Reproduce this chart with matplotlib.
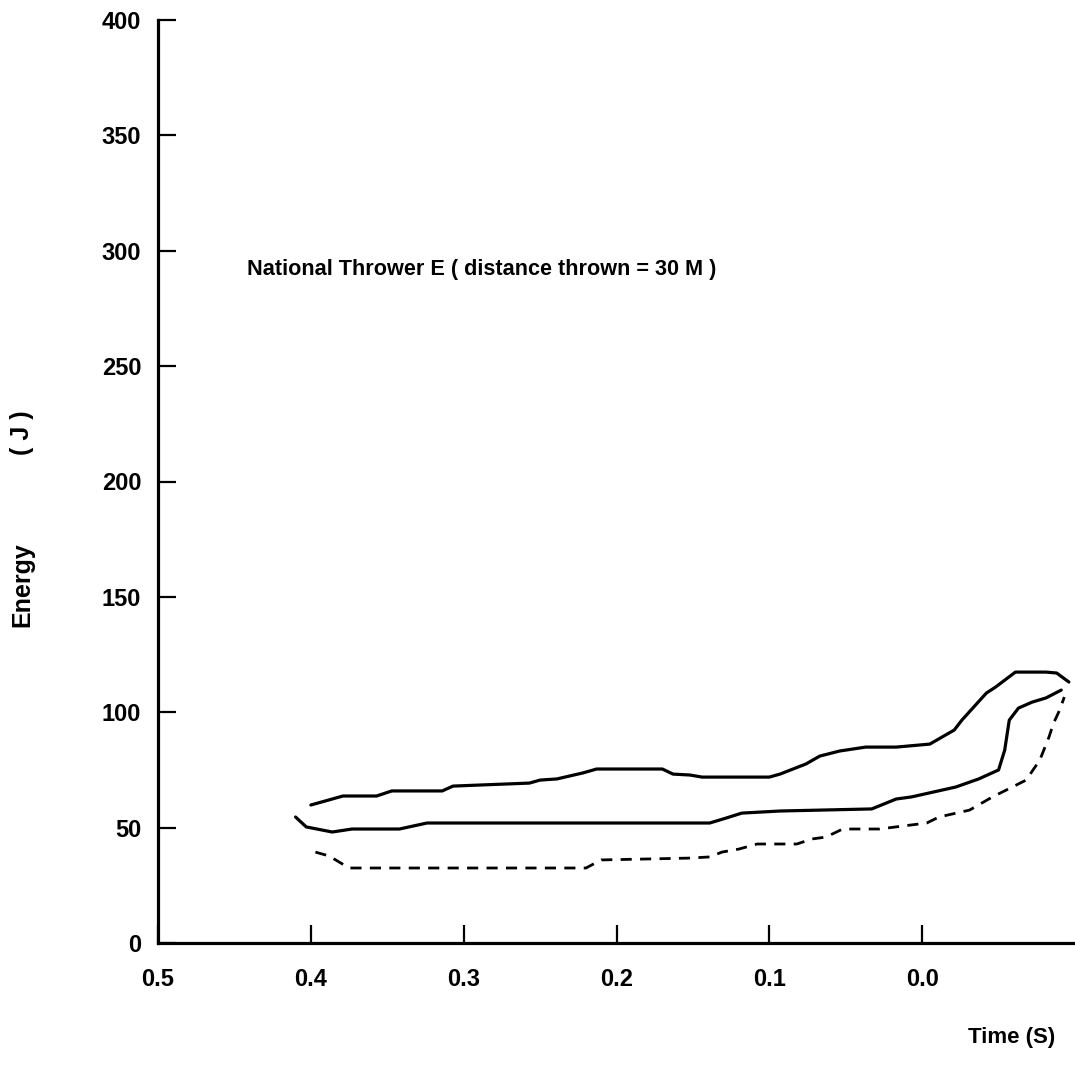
#!/usr/bin/env python

import matplotlib
matplotlib.use("Agg")
import matplotlib.pyplot as plt
import numpy as np

plt.rcParams['font.family'] = ['Liberation Sans', 'DejaVu Sans']
plt.rcParams['font.weight'] = 'bold'

# time before release (s), energy (J)
upper_t = [0.400, 0.379, 0.357, 0.347, 0.314, 0.307, 0.257, 0.250, 0.239,
           0.222, 0.213, 0.170, 0.163, 0.152, 0.144, 0.100, 0.093, 0.076,
           0.067, 0.054, 0.037, 0.017, -0.005, -0.021, -0.026, -0.042,
           -0.048, -0.061, -0.081, -0.088, -0.096]
upper_e = [59.8, 63.7, 63.7, 65.9, 65.9, 68.0, 69.3, 70.6, 71.1,
           73.7, 75.4, 75.4, 73.2, 72.8, 71.9, 71.9, 73.2, 77.6,
           81.0, 83.2, 84.9, 84.9, 86.2, 92.3, 96.6, 108.3,
           110.9, 117.4, 117.4, 117.0, 113.1]

middle_t = [0.410, 0.403, 0.386, 0.373, 0.342, 0.324, 0.146, 0.139, 0.128,
            0.118, 0.093, 0.033, 0.017, 0.007, -0.022, -0.037, -0.050,
            -0.054, -0.057, -0.063, -0.072, -0.081, -0.091]
middle_e = [54.6, 50.3, 48.1, 49.4, 49.4, 52.0, 52.0, 52.0, 54.2,
            56.3, 57.2, 58.1, 62.4, 63.3, 67.6, 71.1, 75.0,
            83.6, 96.6, 101.8, 104.4, 106.2, 109.6]

lower_t = [0.397, 0.388, 0.375, 0.368, 0.220, 0.210, 0.152, 0.139, 0.131,
           0.120, 0.108, 0.082, 0.072, 0.063, 0.052, 0.028, -0.003, -0.011,
           -0.031, -0.046, -0.059, -0.068, -0.077, -0.083, -0.086, -0.090,
           -0.093]
lower_e = [39.4, 37.7, 32.5, 32.5, 32.5, 36.0, 36.8, 37.3, 39.4,
           40.7, 42.9, 42.9, 45.1, 45.9, 49.4, 49.4, 52.0, 54.6,
           57.6, 63.3, 67.6, 70.6, 79.3, 89.3, 95.3, 101.0,
           106.6]

x_ticks = [0.5, 0.4, 0.3, 0.2, 0.1, 0.0]
x_labels = ["0.5", "0.4", "0.3", "0.2", "0.1", "0.0"]
y_ticks = [0, 50, 100, 150, 200, 250, 300, 350, 400]

fig = plt.figure(figsize=(10.75, 10.79), dpi=100)
ax = fig.add_axes([158 / 1075, 1 - 943 / 1079, 917 / 1075, 923 / 1079])

ax.plot(upper_t, upper_e, color='black', lw=2.3, solid_capstyle='round')
ax.plot(middle_t, middle_e, color='black', lw=2.3, solid_capstyle='round')
ax.plot(lower_t, lower_e, color='black', lw=2.0, linestyle=(0, (4, 3)))

ax.set_xlim(0.5, -0.1)
ax.set_ylim(0, 400)
ax.set_xticks(x_ticks)
ax.set_xticklabels(x_labels)
ax.set_yticks(y_ticks)

for side in ['top', 'right']:
    ax.spines[side].set_visible(False)
for side in ['left', 'bottom']:
    ax.spines[side].set_linewidth(2.3)

ax.tick_params(axis='both', direction='in', length=13, width=1.6,
               labelsize=17)
ax.tick_params(axis='y', pad=12)
ax.tick_params(axis='x', pad=18)

ax.text(0.442, 292, "National Thrower E ( distance thrown = 30 M )",
        fontsize=15.6, fontweight='bold', va='center', ha='left')

# y label drawn as two pieces, as in the original
fig.text(22 / 1075, 1 - 585 / 1079, "Energy", rotation=90, fontsize=18,
         fontweight='bold', ha='center', va='center')
fig.text(22 / 1075, 1 - 433 / 1079, "( J )", rotation=90, fontsize=18,
         fontweight='bold', ha='center', va='center')
fig.text(1012 / 1075, 1 - 1037 / 1079, "Time (S)", fontsize=16,
         fontweight='bold', ha='center', va='center')

fig.savefig("out.png", dpi=100)
